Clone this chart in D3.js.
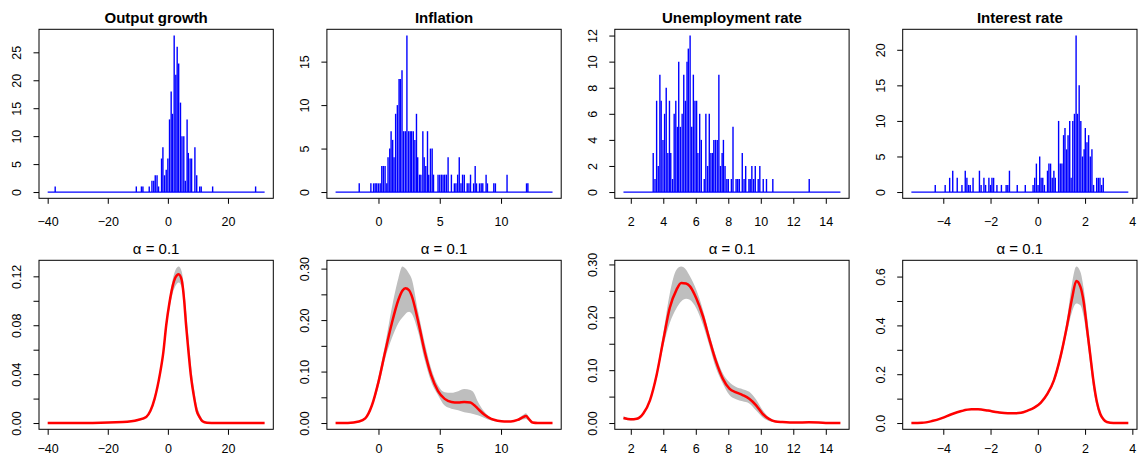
<!DOCTYPE html>
<html><head><meta charset="utf-8">
<script src="https://cdn.jsdelivr.net/npm/d3@7"></script>
<style>
body{margin:0;background:#fff}
svg{display:block}
text{font-family:"Liberation Sans",Arial,Helvetica,sans-serif;fill:#000}
</style>
</head><body><svg id="c" width="1138" height="456"></svg>
<script>
// ---------------- DATA ----------------
const titles = ["Output growth", "Inflation", "Unemployment rate", "Interest rate"];
const densityTitle = "α = 0.1";
const xRanges = [[-40, 32.2], [-3.5, 14.2], [1.55, 14.9], [-5.35, 3.83]];

// Histogram-like counts (top row)
const hist1X = [-37.5,-10.5,-8.8,-8.3,-6.2,-5.3,-4.7,-4.2,-3.6,-3.1,-2.1,-1.65,-1.1,-0.55,0,0.55,1.1,1.55,2.1,2.65,3.1,3.6,4.2,4.7,5.3,5.8,6.4,6.8,7.4,7.9,9.0,9.6,10.6,11.1,14.9,29.2];
const hist1Y = [1,1,1,1,1,2,2,3,3,1,6,8,3,4,6,13,18,14,28,21,26,23,16,10,10,2,13,7,6,6,8,3,1,1,1,1];

const hist2X = [-1.57,-0.62,-0.4,-0.27,-0.14,0,0.14,0.27,0.4,0.54,0.68,0.78,0.92,1.03,1.16,1.27,1.4,1.54,1.68,1.78,1.92,2.05,2.19,2.32,2.46,2.59,2.7,2.84,2.97,3.1,3.2,3.35,3.46,3.62,3.73,3.86,4.0,4.1,4.24,4.38,4.49,4.86,5.0,5.14,5.27,5.4,5.54,5.68,5.95,6.19,6.32,6.46,6.59,6.73,6.86,7.0,7.24,7.38,7.51,7.76,7.89,8.0,8.24,8.38,8.51,8.78,8.89,9.41,9.54,10.49,12.08,12.19];
const hist2Y = [1,1,1,1,1,1,1,3,3,3,1,4,5,7,6,4,9,10,13,13,14,7,7,18,7,7,7,7,6,9,4,2,2,7,4,3,7,2,5,5,2,2,2,2,2,2,2,4,2,1,1,2,4,1,2,2,1,1,2,1,3,1,1,1,1,2,1,1,1,2,1,1];

const hist3X = [3.38,3.49,3.59,3.69,3.79,3.87,3.98,4.08,4.18,4.28,4.38,4.46,4.57,4.67,4.77,4.87,4.95,5.05,5.16,5.26,5.36,5.46,5.54,5.65,5.75,5.85,5.95,6.05,6.13,6.24,6.34,6.52,6.62,6.73,6.83,6.93,7.03,7.11,7.21,7.32,7.42,7.52,7.62,7.7,7.8,7.91,8.0,8.19,8.29,8.48,8.58,8.68,8.86,8.97,9.07,9.27,9.35,9.45,9.56,9.66,9.84,9.94,10.15,10.35,10.74,12.98];
const hist3Y = [3,1,7,2,9,7,4,6,8,3,7,3,1,6,7,5,10,5,6,9,7,10,11,12,5,9,7,7,3,6,4,1,6,2,6,3,3,4,4,4,9,2,3,4,2,1,1,1,5,1,1,1,3,1,2,1,1,2,1,2,1,2,1,1,1,1];

const hist4X = [-4.34,-3.92,-3.73,-3.6,-3.41,-3.21,-3.07,-3.0,-2.93,-2.86,-2.74,-2.47,-2.4,-2.28,-2.21,-2.07,-2.0,-1.94,-1.87,-1.73,-1.54,-1.34,-1.27,-1.2,-0.87,-0.53,-0.2,-0.13,-0.06,0.01,0.08,0.14,0.21,0.28,0.41,0.47,0.54,0.61,0.68,0.74,0.88,0.95,1.02,1.09,1.15,1.22,1.28,1.35,1.41,1.48,1.55,1.62,1.68,1.75,1.82,1.89,1.96,2.01,2.08,2.15,2.22,2.29,2.36,2.49,2.56,2.63,2.7,2.77];
const hist4Y = [1,1,2,3,2,1,3,2,1,1,2,3,1,2,1,2,1,2,2,1,1,1,1,3,1,1,1,2,4,1,5,2,2,1,3,4,4,2,3,2,10,4,4,8,9,6,8,10,2,10,11,22,11,15,10,5,6,9,7,8,5,6,1,2,2,2,1,2];

// Density estimates (bottom row): median + band
const dens1X   = [-40,-25,-15,-10,-7.2,-5.8,-4.4,-2.65,-1.5,-0.55,0.5,1.5,2.5,3.6,4.6,5.4,6.06,6.8,7.6,8.8,9.6,10.5,11.5,13,16,32.2];
const dens1Mid = [0,0.0001,0.0008,0.0025,0.005,0.01,0.02,0.04,0.058,0.08,0.098,0.111,0.119,0.1218,0.117,0.101,0.08,0.06,0.04,0.02,0.01,0.005,0.0015,0.0003,0,0];
const dens1Lo  = [0,0,0.0005,0.002,0.004,0.009,0.018,0.037,0.055,0.076,0.093,0.105,0.112,0.115,0.111,0.097,0.077,0.056,0.036,0.017,0.008,0.0035,0.001,0.0001,0,0];
const dens1Hi  = [0,0.0002,0.001,0.003,0.006,0.011,0.021,0.041,0.06,0.082,0.101,0.116,0.125,0.128,0.124,0.11,0.092,0.072,0.05,0.027,0.015,0.008,0.003,0.0006,0,0];

const dens2X   = [-3.5,-2.5,-1.6,-1.08,-0.54,0,0.54,1.08,1.62,1.95,2.2,2.5,2.7,3.24,3.78,4.3,4.86,5.4,5.95,6.5,7.0,7.5,7.8,8.1,8.65,9.2,9.73,10.27,10.8,11.35,11.76,12.03,12.3,12.57,13,14.2];
const dens2Mid = [0,0.0003,0.003,0.009,0.034,0.08,0.138,0.193,0.239,0.257,0.262,0.258,0.248,0.197,0.138,0.093,0.062,0.047,0.041,0.04,0.041,0.04,0.035,0.028,0.016,0.008,0.0045,0.003,0.003,0.006,0.011,0.0136,0.007,0.001,0,0];
const dens2Lo  = [0,0,0.002,0.007,0.03,0.07,0.125,0.164,0.194,0.205,0.212,0.216,0.213,0.177,0.122,0.08,0.054,0.034,0.028,0.025,0.021,0.019,0.017,0.015,0.01,0.005,0.003,0.0025,0.0025,0.004,0.007,0.008,0.004,0.0005,0,0];
const dens2Hi  = [0,0.0006,0.004,0.011,0.038,0.09,0.152,0.223,0.281,0.304,0.3,0.29,0.281,0.216,0.155,0.106,0.073,0.06,0.059,0.062,0.066,0.064,0.058,0.042,0.022,0.01,0.005,0.0035,0.0037,0.008,0.015,0.019,0.01,0.002,0,0];

const dens3X   = [1.55,2.0,2.37,2.77,3.18,3.59,4.0,4.4,4.81,5.1,5.4,5.63,6.03,6.44,6.85,7.25,7.66,8.07,8.48,8.88,9.29,9.7,10.1,10.5,10.9,11.33,12.14,12.96,14,14.9];
const dens3Mid = [0.0095,0.007,0.008,0.018,0.043,0.091,0.157,0.218,0.252,0.265,0.264,0.259,0.236,0.202,0.157,0.116,0.084,0.065,0.058,0.053,0.046,0.034,0.018,0.008,0.003,0.002,0.001,0.0015,0.0003,0];
const dens3Lo  = [0.007,0.005,0.006,0.016,0.04,0.085,0.145,0.189,0.217,0.23,0.235,0.233,0.217,0.186,0.145,0.103,0.075,0.053,0.045,0.041,0.037,0.024,0.011,0.004,0.0015,0.001,0.0005,0.001,0,0];
const dens3Hi  = [0.013,0.009,0.01,0.021,0.047,0.098,0.17,0.245,0.29,0.296,0.29,0.278,0.252,0.214,0.167,0.126,0.094,0.077,0.068,0.064,0.059,0.045,0.025,0.011,0.005,0.003,0.002,0.0025,0.0005,0];

const dens4X   = [-5.35,-4.9,-4.48,-4.06,-3.65,-3.23,-2.81,-2.53,-2.11,-1.69,-1.27,-0.99,-0.71,-0.43,-0.15,0.13,0.41,0.68,0.96,1.24,1.45,1.63,1.8,1.94,2.08,2.22,2.36,2.5,2.64,2.78,2.92,3.2,3.83];
const dens4Mid = [0,0.001,0.008,0.02,0.036,0.049,0.056,0.056,0.051,0.044,0.04,0.04,0.042,0.051,0.063,0.084,0.12,0.175,0.272,0.401,0.511,0.582,0.559,0.497,0.388,0.278,0.168,0.086,0.038,0.015,0.004,0,0];
const dens4Lo  = [0,0,0.006,0.017,0.033,0.046,0.053,0.053,0.048,0.041,0.037,0.037,0.039,0.048,0.059,0.079,0.113,0.163,0.254,0.374,0.456,0.49,0.483,0.436,0.347,0.237,0.134,0.066,0.027,0.011,0.003,0,0];
const dens4Hi  = [0,0.002,0.01,0.023,0.039,0.052,0.059,0.059,0.054,0.047,0.043,0.043,0.045,0.054,0.067,0.089,0.127,0.186,0.29,0.429,0.573,0.641,0.62,0.552,0.442,0.319,0.196,0.1,0.045,0.018,0.005,0,0];

// Tick values / labels
const xTicks = [[-40,-20,0,20],[0,5,10],[2,4,6,8,10,12,14],[-4,-2,0,2,4]];
const histYTicks = [[0,5,10,15,20,25],[0,5,10,15],[0,2,4,6,8,10,12],[0,5,10,15,20]];
const densYTicks = [[0,0.02,0.04,0.06,0.08,0.10,0.12],[0,0.05,0.10,0.15,0.20,0.25,0.30],[0,0.05,0.10,0.15,0.20,0.25,0.30],[0,0.1,0.2,0.3,0.4,0.5,0.6]];
const densYLabels = [["0.00","","0.04","","0.08","","0.12"],["0.00","","0.10","","0.20","","0.30"],["0.00","","0.10","","0.20","","0.30"],["0.0","","0.2","","0.4","","0.6"]];

// ---------------- DRAWING ----------------
const histX = [hist1X, hist2X, hist3X, hist4X];
const histY = [hist1Y, hist2Y, hist3Y, hist4Y];
const densX = [dens1X, dens2X, dens3X, dens4X];
const densMid = [dens1Mid, dens2Mid, dens3Mid, dens4Mid];
const densLo = [dens1Lo, dens2Lo, dens3Lo, dens4Lo];
const densHi = [dens1Hi, dens2Hi, dens3Hi, dens4Hi];

const svg = d3.select("#c");
const W = 234.3, H = 169;
const lefts = [0,1,2,3].map(i => 39 + 287.9 * i);
const tops = [29.3, 260.3];
const rExt = (a, b) => { const d = (b - a) * 0.04; return [a - d, b + d]; };
const fmt = d3.format("");

function frame(g, x, y, xt, yt, ylab, title, bold, xLabOff) {
  const ax = g.append("g").attr("transform", `translate(0,${H})`)
    .call(d3.axisBottom(x).tickValues(xt).tickSize(5.5).tickFormat(fmt));
  ax.select(".domain").remove();
  ax.selectAll("line").attr("stroke", "#000");
  ax.selectAll("text").attr("y", xLabOff).attr("dy", 0)
    .attr("font-size", 12.5).attr("font-family", null).attr("fill", "#000");
  const ay = g.append("g")
    .call(d3.axisLeft(y).tickValues(yt).tickSize(5.5).tickFormat((d, i) => ylab[i]));
  ay.select(".domain").remove();
  ay.selectAll("line").attr("stroke", "#000");
  ay.selectAll("text").attr("x", null).attr("dy", 0).attr("text-anchor", "middle")
    .attr("transform", "translate(-18,0) rotate(-90)")
    .attr("font-size", 12.5).attr("font-family", null).attr("fill", "#000");
  g.append("rect").attr("x", 0).attr("y", 0).attr("width", W).attr("height", H)
    .attr("fill", "none").attr("stroke", "#000").attr("stroke-width", 1);
  g.append("text").attr("x", W / 2).attr("y", -6).attr("text-anchor", "middle")
    .attr("font-size", 15).attr("font-weight", bold ? "bold" : "normal").text(title);
}

for (let i = 0; i < 4; i++) {
  // ---- top row: count spikes ----
  const gt = svg.append("g").attr("transform", `translate(${lefts[i]},${tops[0]})`);
  const xs = d3.scaleLinear().domain(rExt(...xRanges[i])).range([0, W]);
  const ys = d3.scaleLinear().domain(rExt(0, d3.max(histY[i]))).range([H, 0]);
  gt.append("line").attr("x1", xs(xRanges[i][0])).attr("x2", xs(xRanges[i][1]))
    .attr("y1", ys(0)).attr("y2", ys(0)).attr("stroke", "#0000ff").attr("stroke-width", 1.2);
  gt.append("g").selectAll("line").data(histX[i].map((v, k) => [v, histY[i][k]])).join("line")
    .attr("x1", d => xs(d[0])).attr("x2", d => xs(d[0]))
    .attr("y1", ys(0)).attr("y2", d => ys(d[1]))
    .attr("stroke", "#0000ff").attr("stroke-width", 1.4);
  frame(gt, xs, ys, xTicks[i], histYTicks[i], histYTicks[i].map(fmt), titles[i], true, 28);

  // ---- bottom row: density band + median ----
  const gb = svg.append("g").attr("transform", `translate(${lefts[i]},${tops[1]})`);
  const yb = d3.scaleLinear().domain(rExt(0, d3.max(densHi[i]))).range([H, 0]);
  const pts = densX[i].map((v, k) => ({x: v, m: densMid[i][k], lo: densLo[i][k], hi: densHi[i][k]}));
  gb.append("path").datum(pts)
    .attr("d", d3.area().x(d => xs(d.x)).y0(d => yb(d.lo)).y1(d => yb(d.hi)).curve(d3.curveMonotoneX))
    .attr("fill", "#bebebe").attr("stroke", "none");
  gb.append("path").datum(pts)
    .attr("d", d3.line().x(d => xs(d.x)).y(d => yb(d.m)).curve(d3.curveMonotoneX))
    .attr("fill", "none").attr("stroke", "#ff0000").attr("stroke-width", 2.5);
  frame(gb, xs, yb, xTicks[i], densYTicks[i], densYLabels[i], densityTitle, false, 23.3);
}
</script>
</body></html>
